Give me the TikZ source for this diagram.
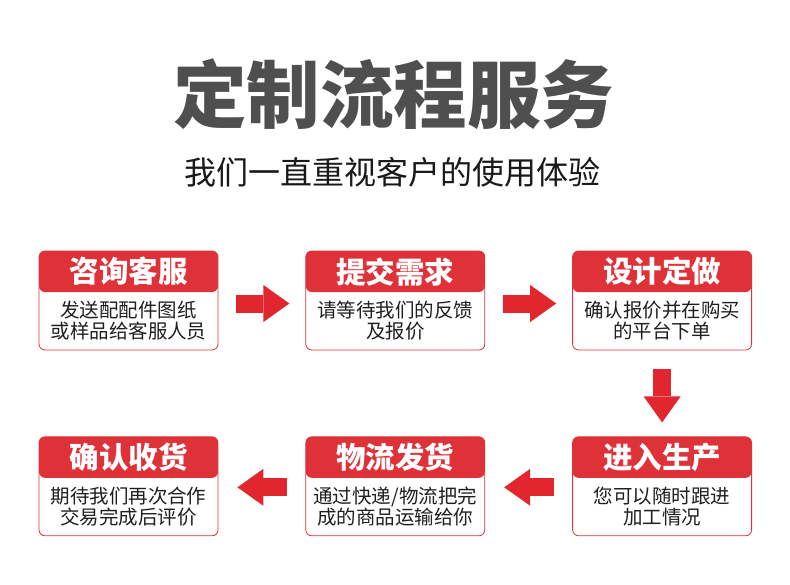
\documentclass[tikz,border=0pt]{standalone}
\usepackage{fontspec}
\newfontfamily\cjk{Noto Sans CJK SC}
\usepackage{xcolor}
\usetikzlibrary{positioning,calc,arrows.meta}
\definecolor{stepred}{HTML}{DF3138}
\definecolor{arrowred}{HTML}{E1272D}
\definecolor{titlegray}{HTML}{4F4F4F}

\begin{document}
\begin{tikzpicture}[
    x=1pt, y=-1pt,
    node distance=87pt,
    card/.style={draw=stepred, line width=0.8pt, rounded corners=6pt,
                 minimum width=179pt, minimum height=99pt, inner sep=0pt,
                 fill=white,
                 path picture={\fill[stepred] (path picture bounding box.north west)
                   rectangle ([yshift=-41pt]path picture bounding box.north east);}},
    head/.style={text=white, inner sep=0pt,
                 font=\cjk\bfseries\fontsize{29.5}{29.5}\selectfont},
    body/.style={align=center, text=black!88, inner sep=0pt,
                 font=\cjk\fontsize{19.5}{20.5}\selectfont},
    flow/.style={arrowred, line width=18pt,
                 -{Triangle[width=37pt, length=26pt, line width=0pt]},
                 shorten <=18pt, shorten >=16pt},
  ]
  \useasboundingbox (0,0) rectangle (790,584);

  % Title
  \node[text=titlegray, font=\cjk\bfseries\fontsize{73.5}{73.5}\selectfont]
    (title) at (393.5,94) {定制流程服务};
  \node[text=black!90, font=\cjk\fontsize{32}{32}\selectfont]
    (subtitle) at (392.5,172) {我们一直重视客户的使用体验};

  % Row 1: left to right
  \node[card] (consult) at (128.5,300.5) {};
  \node[card, right=of consult] (demand) {};
  \node[card, right=of demand] (design) {};

  % Row 2: right to left
  \node[card, below=86pt of design] (produce) {};
  \node[card, left=of produce] (ship) {};
  \node[card, left=of ship] (receive) {};

  % Card texts
  \node[head] (consulthd) at ([yshift=-21pt]consult.north) {咨询客服};
  \node[body] (consulttx) at ([yshift=-70pt]consult.north) {发送配配件图纸\\或样品给客服人员};
  \node[head] (demandhd) at ([yshift=-21pt]demand.north) {提交需求};
  \node[body] (demandtx) at ([yshift=-70pt]demand.north) {请等待我们的反馈\\及报价};
  \node[head] (designhd) at ([yshift=-21pt]design.north) {设计定做};
  \node[body] (designtx) at ([yshift=-70pt]design.north) {确认报价并在购买\\的平台下单};
  \node[head] (producehd) at ([yshift=-21pt]produce.north) {进入生产};
  \node[body] (producetx) at ([yshift=-70pt]produce.north) {您可以随时跟进\\加工情况};
  \node[head] (shiphd) at ([yshift=-21pt]ship.north) {物流发货};
  \node[body] (shiptx) at ([yshift=-70pt]ship.north) {通过快递/物流把完\\成的商品运输给你};
  \node[head] (receivehd) at ([yshift=-21pt]receive.north) {确认收货};
  \node[body] (receivetx) at ([yshift=-70pt]receive.north) {期待我们再次合作\\交易完成后评价};

  % Arrows
  \draw[flow] ([yshift=-3pt]consult.east) -- ([yshift=-3pt]demand.west);
  \draw[flow] ([yshift=-3pt]demand.east) -- ([yshift=-3pt]design.west);
  \draw[flow, shorten <=19pt, shorten >=14pt] (design.south) -- (produce.north);
  \draw[flow, shorten >=19pt] ([yshift=-1pt]produce.west) -- ([yshift=-1pt]ship.east);
  \draw[flow, shorten >=19pt] ([yshift=-1pt]ship.west) -- ([yshift=-1pt]receive.east);

\end{tikzpicture}
\end{document}
